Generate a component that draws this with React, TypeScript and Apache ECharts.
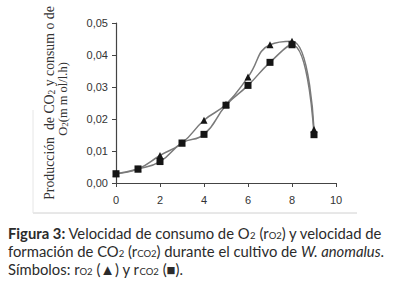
import React, { useEffect, useRef } from "react";
import * as echarts from "echarts";

const timeH = [0, 1, 2, 3, 4, 5, 6, 7, 8, 9];
const rO2 = [0.0029, 0.0044, 0.0086, 0.0125, 0.0196, 0.0246, 0.0331, 0.0432, 0.0443, 0.0167];
const rCO2 = [0.0029, 0.0044, 0.0067, 0.0125, 0.0152, 0.0243, 0.0305, 0.0377, 0.0432, 0.0151];
const xRange = [0, 10];
const yRange = [0, 0.05];

export default function App() {
  const ref = useRef<HTMLDivElement>(null);
  useEffect(() => {
    if (!ref.current) return;
    const chart = echarts.init(ref.current, null, { renderer: "svg" });
    const capFont = "Lato, 'Open Sans', sans-serif";
    const capSize = 14.8;
    const capBase = {
      fontFamily: capFont,
      fontSize: capSize,
      fill: "#2b2b2b",
    };
    const capRich = {
      b: { fontWeight: "bold", fontSize: capSize, fontFamily: capFont, color: "#2b2b2b" },
      s: { fontSize: 9.5, fontFamily: capFont, color: "#2b2b2b", padding: [4, 0, 0, 0] },
      i: { fontStyle: "italic", fontSize: capSize, fontFamily: capFont, color: "#2b2b2b" },
    };
    const serif = "'Liberation Serif', 'DejaVu Serif', serif";
    const ylabRich = {
      s: { fontSize: 9.5, fontFamily: serif, color: "#333", padding: [5, 0, 0, 0] },
    };
    chart.setOption({
      animation: false,
      backgroundColor: "#ffffff",
      grid: { left: 116, right: 64, top: 23, bottom: 101 },
      xAxis: {
        type: "value",
        min: xRange[0],
        max: xRange[1],
        interval: 2,
        axisLine: { lineStyle: { color: "#444", width: 1.2 } },
        axisTick: { show: true, length: 4, lineStyle: { color: "#444" } },
        axisLabel: { color: "#333", fontFamily: "'Liberation Sans Narrow', 'Liberation Sans', Arial", fontSize: 11, margin: 11 },
        splitLine: { show: false },
      },
      yAxis: {
        type: "value",
        min: yRange[0],
        max: yRange[1],
        interval: 0.01,
        axisLine: { show: true, lineStyle: { color: "#444", width: 1.2 } },
        axisTick: { show: true, length: 4, lineStyle: { color: "#444" } },
        axisLabel: {
          color: "#333",
          fontFamily: "'Liberation Sans Narrow', 'Liberation Sans', Arial",
          fontSize: 11,
          margin: 8,
          formatter: (v: number) => v.toFixed(2).replace(".", ","),
        },
        splitLine: { show: false },
      },
      series: [
        {
          name: "rO2",
          type: "line",
          smooth: 0.5,
          smoothConstraint: false,
          data: timeH.map((t, i) => [t, rO2[i]]),
          symbol: "triangle",
          symbolSize: 7,
          lineStyle: { color: "#7a7a7a", width: 1.5 },
          itemStyle: { color: "#151515" },
        },
        {
          name: "rCO2",
          type: "line",
          smooth: 0.5,
          smoothConstraint: false,
          data: timeH.map((t, i) => [t, rCO2[i]]),
          symbol: "rect",
          symbolSize: 7,
          lineStyle: { color: "#7a7a7a", width: 1.5 },
          itemStyle: { color: "#151515" },
        },
      ],
      graphic: [
        {
          type: "text",
          x: 49,
          y: 103,
          rotation: Math.PI / 2,
          style: {
            text: "Producción  de CO{s|2} y consum o de",
            fontFamily: serif,
            fontSize: 13.8,
            fill: "#333",
            align: "center",
            verticalAlign: "middle",
            rich: ylabRich,
          },
        },
        {
          type: "text",
          x: 63,
          y: 99,
          rotation: Math.PI / 2,
          style: {
            text: "O{s|2}(m m ol/l.h)",
            fontFamily: serif,
            fontSize: 12.5,
            fill: "#333",
            align: "center",
            verticalAlign: "middle",
            rich: { s: { fontSize: 9, fontFamily: serif, color: "#333", padding: [4, 0, 0, 0] } },
          },
        },
        {
          type: "line",
          shape: { x1: 33, y1: 213, x2: 357, y2: 213 },
          style: { stroke: "#d0d0d0", lineWidth: 1 },
        },
        {
          type: "line",
          shape: { x1: 33, y1: 110, x2: 33, y2: 213 },
          style: { stroke: "#e6e6e6", lineWidth: 1 },
        },
        {
          type: "text",
          x: 8,
          y: 233,
          style: {
            ...capBase,
            verticalAlign: "middle",
            text: "{b|Figura 3:} Velocidad de consumo de O{s|2} (r{s|O2}) y velocidad de",
            rich: capRich,
          },
        },
        {
          type: "text",
          x: 8,
          y: 251,
          style: {
            ...capBase,
            verticalAlign: "middle",
            text: "formación de CO{s|2} (r{s|CO2}) durante el cultivo de {i|W. anomalus}.",
            rich: capRich,
          },
        },
        {
          type: "text",
          x: 8,
          y: 269,
          style: {
            ...capBase,
            verticalAlign: "middle",
            text: "Símbolos: r{s|O2} (▲) y r{s|CO2} (■).",
            rich: capRich,
          },
        },
      ],
    });
    return () => chart.dispose();
  }, []);
  return (
    <div
      ref={ref}
      style={{ position: "fixed", left: 0, top: 0, width: 400, height: 284, background: "#fff" }}
    />
  );
}
